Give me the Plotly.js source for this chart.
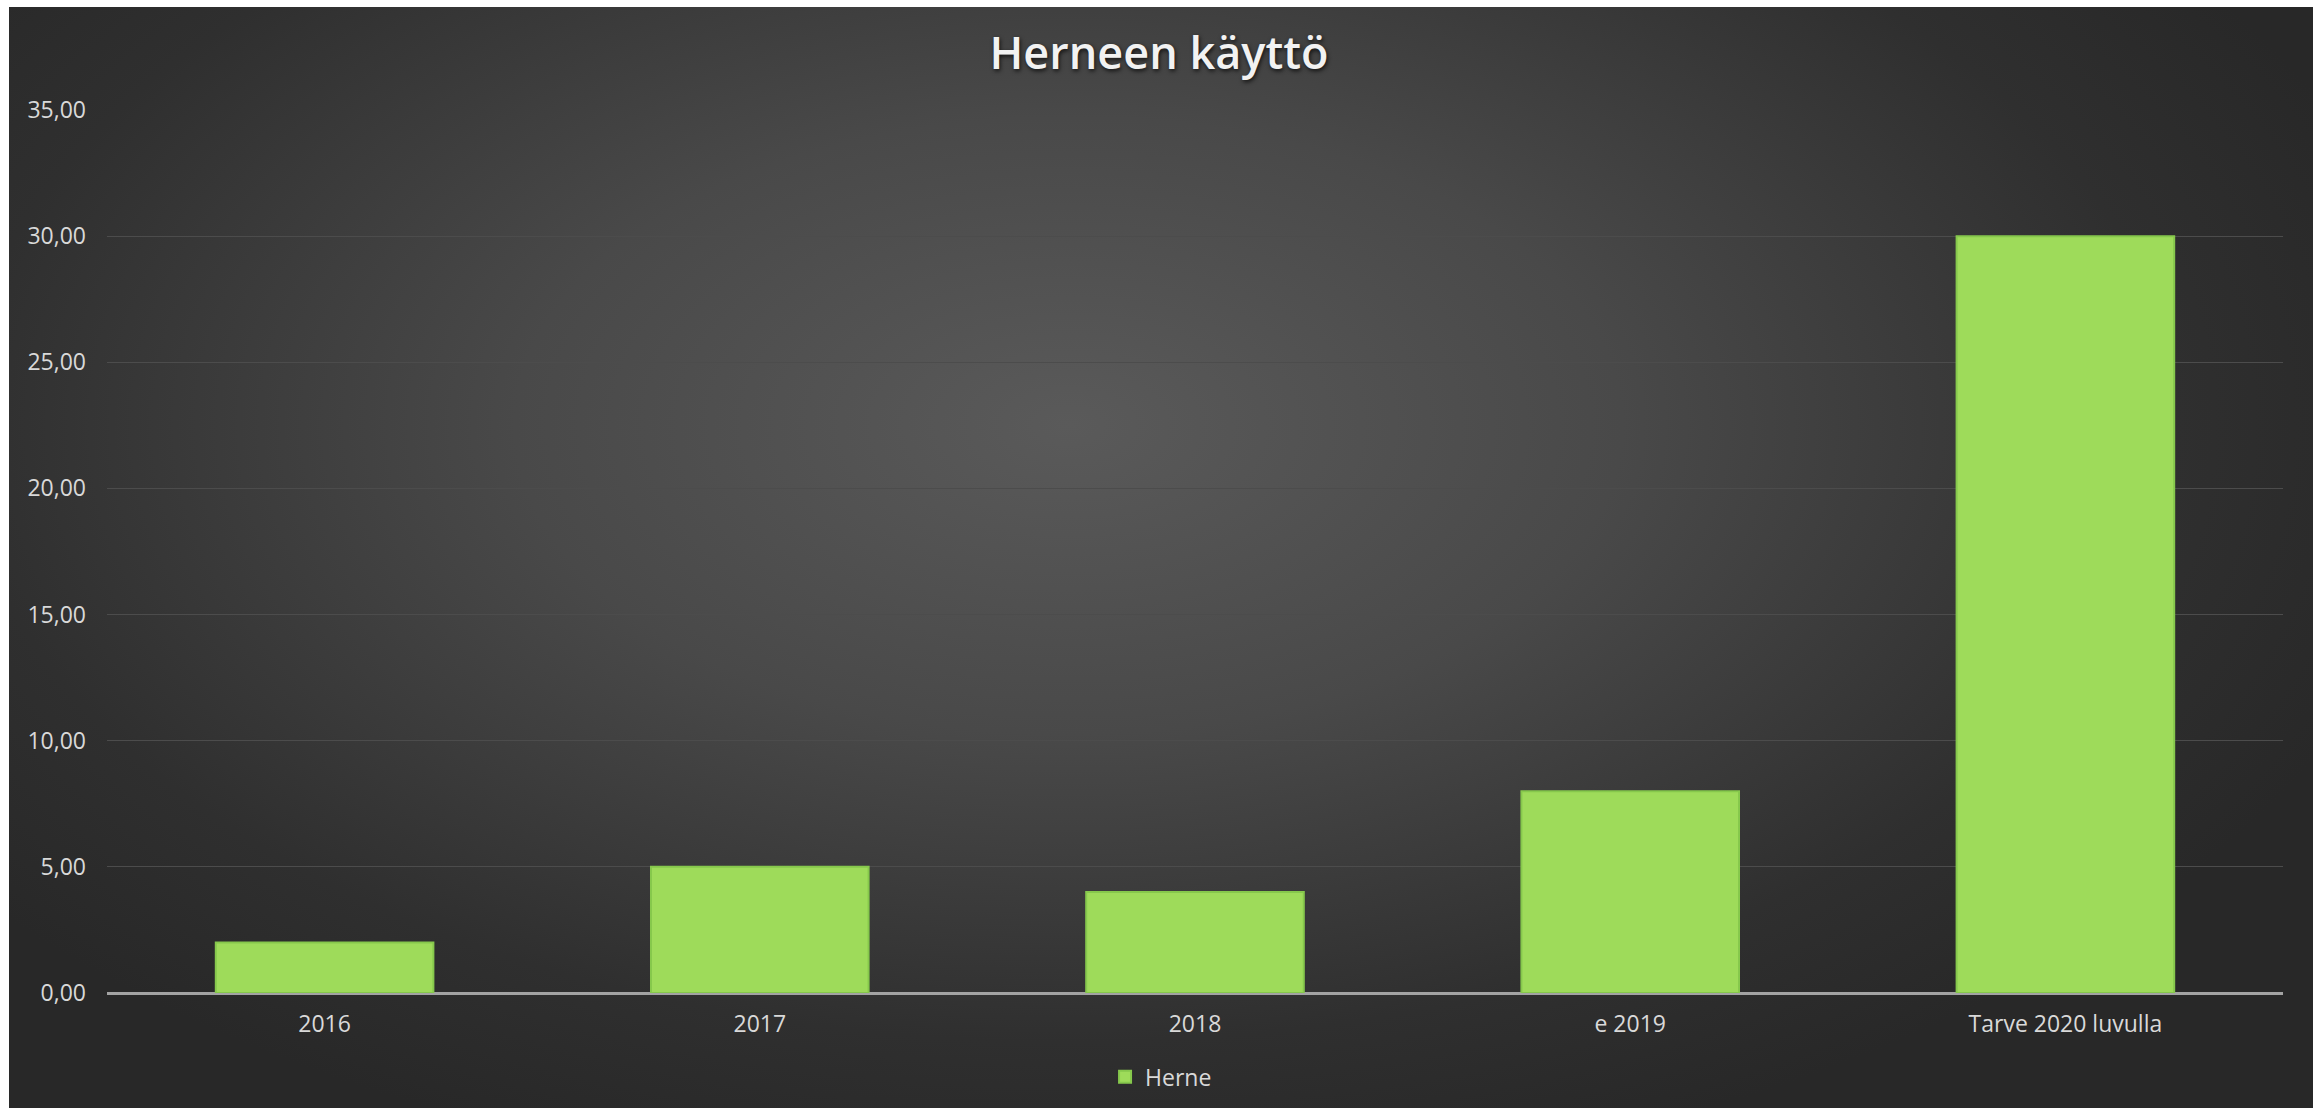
<!DOCTYPE html>
<html>
<head>
<meta charset="utf-8">
<script src="https://cdn.plot.ly/plotly-3.0.1.min.js"></script>
<style>
html,body{margin:0;padding:0;background:#ffffff;width:2318px;height:1108px;overflow:hidden;}
#bg{position:absolute;left:9px;top:7px;width:2304px;height:1101px;
background:radial-gradient(ellipse 60% 70% at 46% 38%, #5a5a5a 0%, #494949 40%, #2f2f2f 80%, #282828 100%);}
#chart{position:absolute;left:0;top:0;width:2318px;height:1108px;}
</style>
</head>
<body>
<div id="bg"></div>
<div id="chart"></div>
<script>
const categories = ["2016", "2017", "2018", "e 2019", "Tarve 2020 luvulla"];
const herneValues = [2, 5, 4, 8, 30];
const seriesName = "Herne";
const chartTitle = "Herneen käyttö";

const trace = {
  type: "bar",
  x: categories,
  y: herneValues,
  name: seriesName,
  marker: {color: "#9edb5a", line: {color: "#86c84c", width: 2}},
  hoverinfo: "x+y"
};

const layout = {
  width: 2318, height: 1108,
  paper_bgcolor: "rgba(0,0,0,0)",
  plot_bgcolor: "rgba(0,0,0,0)",
  margin: {l: 107, r: 35, t: 110, b: 115, autoexpand: false},
  separators: ", ",
  bargap: 0.5,
  showlegend: true,
  title: {
    text: chartTitle,
    x: 0.5, xref: "container", xanchor: "center",
    y: 0.952, yref: "container", yanchor: "middle",
    font: {family: "Open Sans", size: 45, color: "#f2f2f2", weight: 600, shadow: "1px 2px 4px rgba(0,0,0,0.75)"}
  },
  xaxis: {
    type: "category",
    showgrid: false,
    showline: false,
    ticks: "",
    tickfont: {family: "Open Sans", size: 23, color: "#d9d9d9"},
    ticklabelstandoff: 15
  },
  yaxis: {
    range: [0, 35],
    dtick: 5,
    tick0: 0,
    tickformat: ".2f",
    showgrid: true,
    gridcolor: "#4c4c4c",
    gridwidth: 1,
    zeroline: true,
    zerolinecolor: "#a3a3a3",
    zerolinewidth: 3,
    ticks: "",
    tickfont: {family: "Open Sans", size: 23, color: "#d9d9d9"},
    ticklabelstandoff: 20
  },
  legend: {
    orientation: "h",
    x: 0.4844, xanchor: "center",
    y: -0.095, yanchor: "middle",
    font: {family: "Open Sans", size: 23, color: "#d9d9d9"},
    itemwidth: 30,
    bgcolor: "rgba(0,0,0,0)"
  }
};

Plotly.newPlot("chart", [trace], layout, {displayModeBar: false, staticPlot: true});
</script>
</body>
</html>
